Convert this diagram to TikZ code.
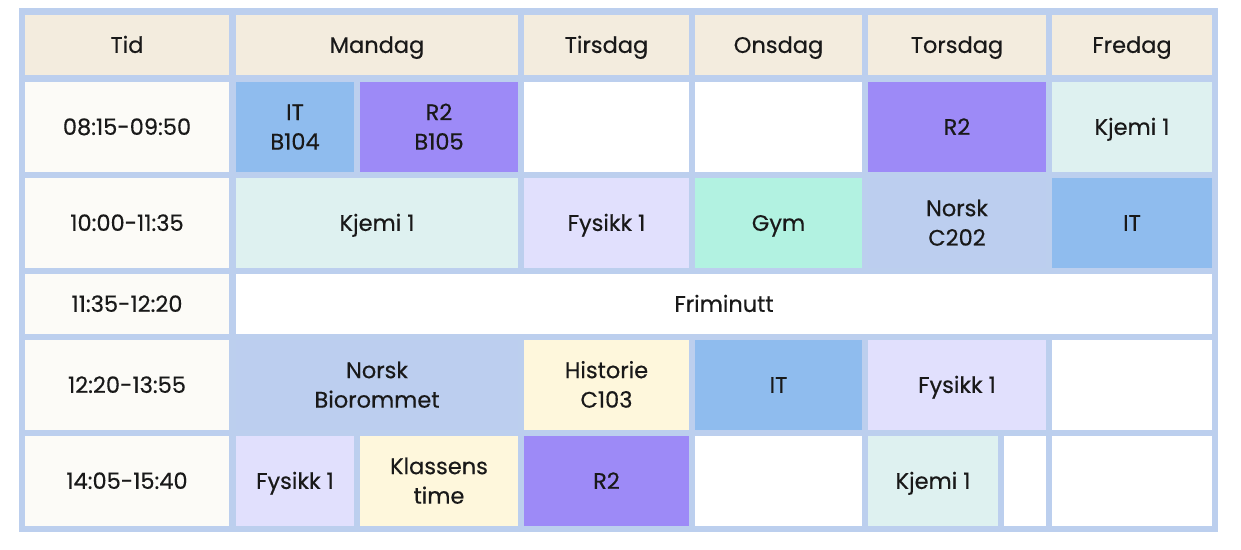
\documentclass[tikz,border=0pt]{standalone}
\usepackage{fontspec}
\setmainfont{Poppins}[FakeBold=0.4]
\usepackage{tikz}

\definecolor{gridline}{HTML}{BCCFEE}
\definecolor{headbg}{HTML}{F3ECDE}
\definecolor{timebg}{HTML}{FCFBF7}
\definecolor{itbg}{HTML}{8FBCEE}
\definecolor{rtwobg}{HTML}{9D8AF7}
\definecolor{kjemibg}{HTML}{DEF1F0}
\definecolor{fysikkbg}{HTML}{E1E0FD}
\definecolor{gymbg}{HTML}{B2F2E1}
\definecolor{norskbg}{HTML}{BCCEEF}
\definecolor{histbg}{HTML}{FEF7DC}

\begin{document}
\begin{tikzpicture}[x=1pt, y=-1pt,
    lesson/.style={align=center, inner sep=0pt, text height=15.8pt, text depth=0pt,
      font=\fontsize{22.5}{29.5}\selectfont, text=black!90},
    lessonpair/.style={lesson, yshift=-14.75pt}]
    \useasboundingbox (0,0) rectangle (1241,549);
    \fill[gridline] (19,8) rectangle (1218,532);
		% header row
		\fill[headbg] (25,15) rectangle (229,75);
		\fill[headbg] (236,15) rectangle (518,75);
		\fill[headbg] (524,15) rectangle (689,75);
		\fill[headbg] (695,15) rectangle (862,75);
		\fill[headbg] (868,15) rectangle (1046,75);
		\fill[headbg] (1052,15) rectangle (1212,75);
		\node[lesson] (hTid) at (127,45) {Tid};
		\node[lesson] (hMan) at (377,45) {Mandag};
		\node[lesson] (hTir) at (606.5,45) {Tirsdag};
		\node[lesson] (hOns) at (778.5,45) {Onsdag};
		\node[lesson] (hTor) at (957,45) {Torsdag};
		\node[lesson] (hFre) at (1132,45) {Fredag};
		% time column
		\fill[timebg] (25,82) rectangle (229,172);
		\fill[timebg] (25,178) rectangle (229,268);
		\fill[timebg] (25,274) rectangle (229,334);
		\fill[timebg] (25,340) rectangle (229,430);
		\fill[timebg] (25,436) rectangle (229,526);
		\node[lesson] (tOne) at (127,127) {08:15-09:50};
		\node[lesson] (tTwo) at (127,223) {10:00-11:35};
		\node[lesson] (tThree) at (127,304) {11:35-12:20};
		\node[lesson] (tFour) at (127,385) {12:20-13:55};
		\node[lesson] (tFive) at (127,481) {14:05-15:40};
		% row 1
		\fill[itbg] (236,82) rectangle (354,172);
		\fill[rtwobg] (360,82) rectangle (518,172);
		\fill[white] (524,82) rectangle (689,172);
		\fill[white] (695,82) rectangle (862,172);
		\fill[rtwobg] (868,82) rectangle (1046,172);
		\fill[kjemibg] (1052,82) rectangle (1212,172);
		\node[lessonpair] (manIT) at (295,127) {IT\\B104};
		\node[lessonpair] (manR) at (439,127) {R2\\B105};
		\node[lesson] (torR) at (957,127) {R2};
		\node[lesson] (freKjemi) at (1132,127) {Kjemi 1};
		% row 2
		\fill[kjemibg] (236,178) rectangle (518,268);
		\fill[fysikkbg] (524,178) rectangle (689,268);
		\fill[gymbg] (695,178) rectangle (862,268);
		\fill[norskbg] (868,178) rectangle (1046,268);
		\fill[itbg] (1052,178) rectangle (1212,268);
		\node[lesson] (manKjemi) at (377,223) {Kjemi 1};
		\node[lesson] (tirFysikk) at (606.5,223) {Fysikk 1};
		\node[lesson] (onsGym) at (778.5,223) {Gym};
		\node[lessonpair] (torNorsk) at (957,223) {Norsk\\C202};
		\node[lesson] (freIT) at (1132,223) {IT};
		% row 3
		\fill[white] (236,274) rectangle (1212,334);
		\node[lesson] (pause) at (724,304) {Friminutt};
		% row 4
		\fill[norskbg] (236,340) rectangle (518,430);
		\fill[histbg] (524,340) rectangle (689,430);
		\fill[itbg] (695,340) rectangle (862,430);
		\fill[fysikkbg] (868,340) rectangle (1046,430);
		\fill[white] (1052,340) rectangle (1212,430);
		\node[lessonpair] (manNorsk) at (377,385) {Norsk\\Biorommet};
		\node[lessonpair] (tirHist) at (606.5,385) {Historie\\C103};
		\node[lesson] (onsIT) at (778.5,385) {IT};
		\node[lesson] (torFysikk) at (957,385) {Fysikk 1};
		% row 5
		\fill[fysikkbg] (236,436) rectangle (354,526);
		\fill[histbg] (360,436) rectangle (518,526);
		\fill[rtwobg] (524,436) rectangle (689,526);
		\fill[white] (695,436) rectangle (862,526);
		\fill[kjemibg] (868,436) rectangle (998,526);
		\fill[white] (1004,436) rectangle (1046,526);
		\fill[white] (1052,436) rectangle (1212,526);
		\node[lesson] (manFysikk) at (295,481) {Fysikk 1};
		\node[lessonpair] (manKlasse) at (439,481) {Klassens\\time};
		\node[lesson] (tirR) at (606.5,481) {R2};
		\node[lesson] (torKjemi) at (933,481) {Kjemi 1};
\end{tikzpicture}
\end{document}
